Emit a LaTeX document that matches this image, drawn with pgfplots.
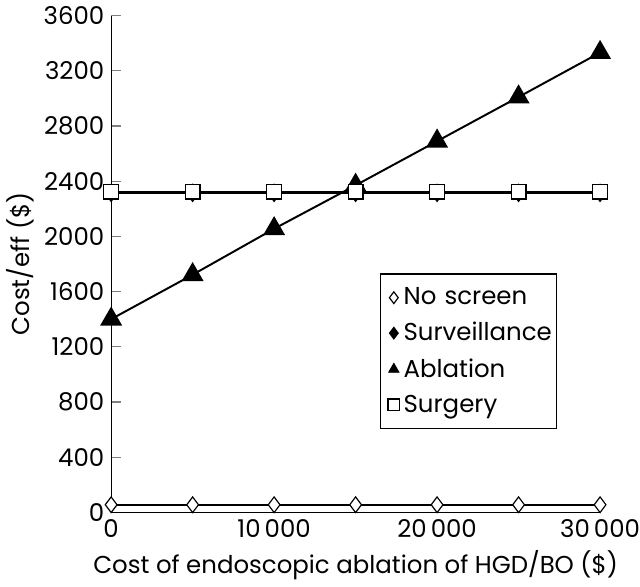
\documentclass[border=0pt]{standalone}
\usepackage{fontspec}
\setmainfont{Poppins}
\usepackage{pgfplots}
\pgfplotsset{compat=1.18}
\begin{document}
\begin{tikzpicture}
\begin{axis}[
  scale only axis,
  width=250pt, height=254pt,
  xmin=0, xmax=30000, ymin=0, ymax=3600,
  axis x line=bottom, axis y line=left,
  axis line style={-, line width=0.6pt},
  xtick={0,10000,20000,30000},
  ytick={0,400,...,3600},
  x tick style={draw=none},
  y tick style={line width=0.6pt},
  tick align=inside,
  major tick length=5pt,
  scaled ticks=false,
  /pgf/number format/assume math mode=true,
  x tick label style={/pgf/number format/1000 sep={\,}, inner xsep=0pt},
  y tick label style={/pgf/number format/1000 sep={}},
  tick label style={font=\fontsize{12.5}{14}\selectfont},
  label style={font=\fontsize{12.5}{14}\selectfont},
  xlabel={Cost of endoscopic ablation of HGD/BO (\$)},
  ylabel={Cost/eff (\$)},
  ylabel style={yshift=-2pt},
  clip=false,
  legend style={at={(0.549,0.481)}, anchor=north west, draw=black, line width=0.6pt,
    font=\fontsize{12.5}{14}\selectfont, row sep=3.5pt, inner xsep=4pt, inner ysep=5pt,
    text width=72pt, cells={anchor=west}},
  legend image code/.code={\draw[#1, line width=0.5pt, mark size=3pt] plot coordinates {(0.1cm,0cm)};},
]
\addplot[black, line width=1pt, mark=diamond*, mark options={fill=white, line width=0.6pt}, mark size=4pt]
  coordinates {(0,55) (5000,55) (10000,55) (15000,55) (20000,55) (25000,55) (30000,55)};
\addlegendentry{No screen}
\addplot[black, line width=1pt, mark=diamond*, mark options={fill=black}, mark size=4pt]
  coordinates {(0,2315) (5000,2315) (10000,2315) (15000,2315) (20000,2315) (25000,2315) (30000,2315)};
\addlegendentry{Surveillance}
\addplot[black, line width=1pt, mark=triangle*, mark options={fill=black}, mark size=5.5pt]
  coordinates {(0,1400) (5000,1722) (10000,2055) (15000,2370) (20000,2690) (25000,3010) (30000,3332)};
\addlegendentry{Ablation}
\addplot[black, line width=1pt, mark=square*, mark options={fill=white, line width=0.6pt}, mark size=3.8pt]
  coordinates {(0,2325) (5000,2325) (10000,2325) (15000,2325) (20000,2325) (25000,2325) (30000,2325)};
\addlegendentry{Surgery}
\end{axis}
\end{tikzpicture}
\end{document}
